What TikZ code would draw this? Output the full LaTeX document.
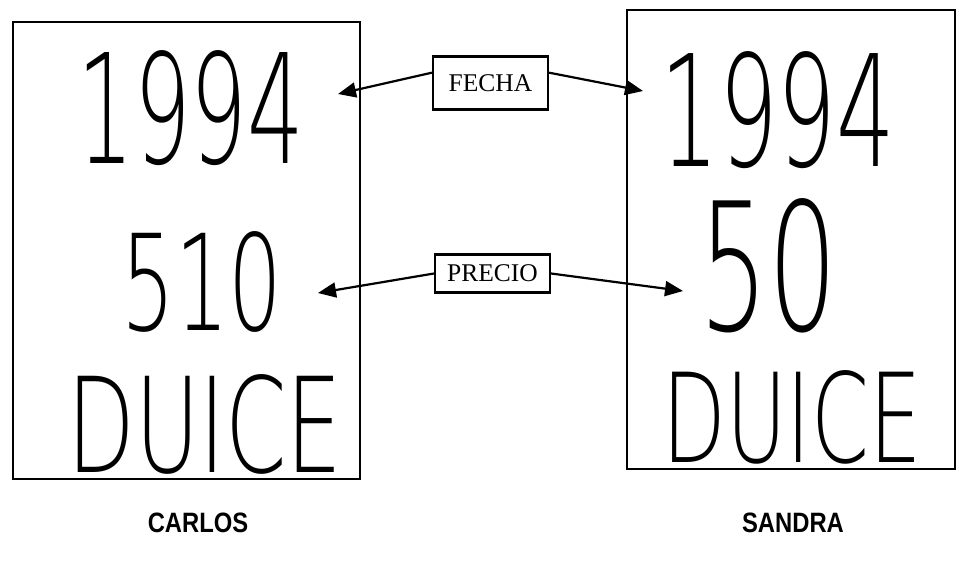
\documentclass[tikz,border=0pt]{standalone}
\usepackage{fontspec}
\setmainfont{Liberation Serif}
\newfontfamily\hand{DejaVu Sans ExtraLight}
\newfontfamily\labsans{Liberation Sans}
\usetikzlibrary{arrows.meta}
\begin{document}
\begin{tikzpicture}[x=1pt,y=-1pt,
  frame/.style={draw,line width=2.6pt,inner sep=0pt},
  tag/.style={draw,line width=2.2pt,inner sep=0pt,font=\fontsize{25.5}{26}\selectfont},
  link/.style={line width=2.2pt,-{Triangle[length=18pt,width=15pt]}},
  hw/.style={inner sep=0pt},
  who/.style={font=\labsans\bfseries\fontsize{28}{30}\selectfont,inner sep=0pt}]
\useasboundingbox (0,0) rectangle (960,563);
\fill[white] (0,0) rectangle (960,563);
% person boxes
\node[frame,minimum width=347pt,minimum height=457pt] (cbox) at (186.5,250.5) {};
\node[frame,minimum width=328pt,minimum height=459pt] (sbox) at (791,239.5) {};
% handwritten contents
\node[hw] (l1994) at (191,108) {\resizebox{227pt}{113pt}{\hand 1994}};
\node[hw] (l510) at (202,282) {\resizebox{161pt}{99pt}{\hand 510}};
\node[hw] (lduice) at (205,424) {\resizebox{275pt}{98pt}{\hand DUICE}};
\node[hw] (r1994) at (778,110) {\resizebox{235pt}{115pt}{\hand 1994}};
\node[hw] (r50) at (769,266) {\resizebox{138pt}{132pt}{\hand 50}};
\node[hw] (rduice) at (792,417) {\resizebox{259pt}{92pt}{\hand DUICE}};
% label boxes
\node[tag,minimum width=115pt,minimum height=53pt] (fecha) at (490.5,83) {FECHA};
\node[tag,minimum width=115pt,minimum height=38pt] (precio) at (492.5,273.5) {PRECIO};
% arrow tips
\coordinate (fl) at (338,94);
\coordinate (fr) at (643,91);
\coordinate (pl) at (318,293);
\coordinate (pr) at (683,291);
\draw[link] (fecha.170) -- (fl);
\draw[link] (fecha.10) -- (fr);
\draw[link] (precio.west) -- (pl);
\draw[link] (precio.east) -- (pr);
% names
\node[who] (carlos) at (198,523) {\scalebox{0.85}[1]{CARLOS}};
\node[who] (sandra) at (793,523) {\scalebox{0.85}[1]{SANDRA}};
\end{tikzpicture}
\end{document}
